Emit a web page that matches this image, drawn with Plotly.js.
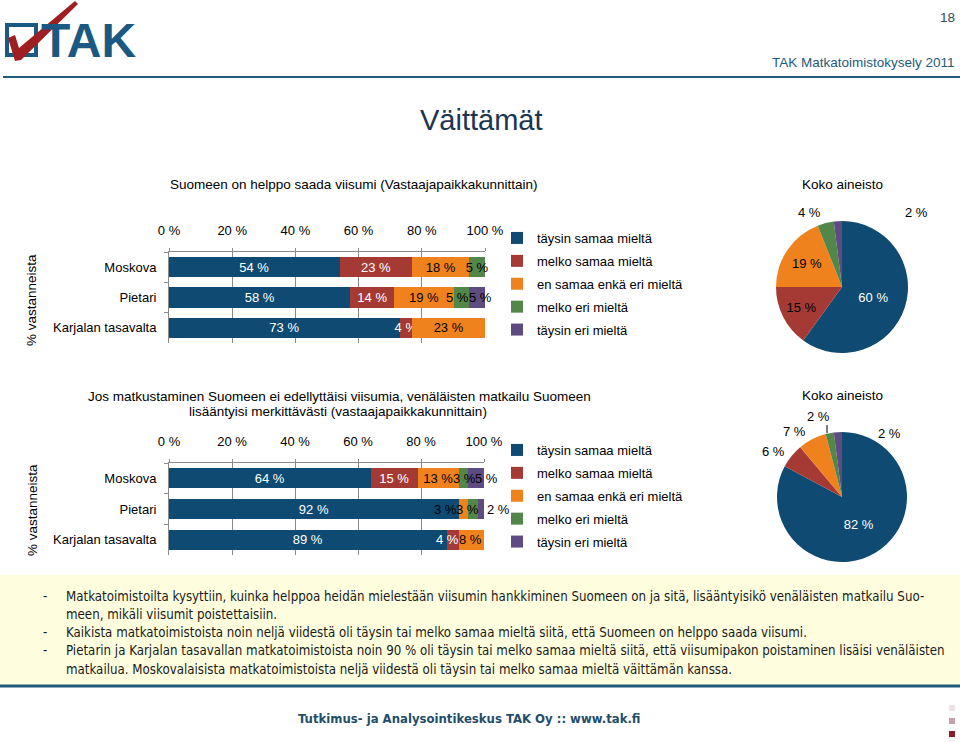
<!DOCTYPE html>
<html><head><meta charset="utf-8">
<script src="https://cdn.plot.ly/plotly-3.0.1.min.js"></script>
<style>html,body{margin:0;padding:0;background:#fff;overflow:hidden}#chart{width:960px;height:742px}</style>
</head><body><div id="chart"></div>
<script>
// ---------- data ----------
const series = ['täysin samaa mieltä','melko samaa mieltä','en samaa enkä eri mieltä','melko eri mieltä','täysin eri mieltä'];
const cities = ['Moskova','Pietari','Karjalan tasavalta'];
const xTickVals = [0,20,40,60,80,100];

const chart1Title = 'Suomeen on helppo saada viisumi (Vastaajapaikkakunnittain)';
const c1TaysinSamaa = [54,58,73];
const c1MelkoSamaa  = [23,14,4];
const c1EnSamaa     = [18,19,23];
const c1MelkoEri    = [5,5,0];
const c1TaysinEri   = [0,5,0];
const pie1Values    = [60,15,19,4,2];

const chart2TitleL1 = 'Jos matkustaminen Suomeen ei edellyttäisi viisumia, venäläisten matkailu Suomeen';
const chart2TitleL2 = 'lisääntyisi merkittävästi (vastaajapaikkakunnittain)';
const c2TaysinSamaa = [64,92,89];
const c2MelkoSamaa  = [15,0,4];
const c2EnSamaa     = [13,3,8];
const c2MelkoEri    = [3,3,0];
const c2TaysinEri   = [5,2,0];
const pie2Values    = [82,6,7,2,2];

const pieTitle = 'Koko aineisto';
const yTitle = '% vastanneista';
const notes = [
  ['-', 'Matkatoimistoilta kysyttiin, kuinka helppoa heidän mielestään viisumin hankkiminen Suomeen on ja sitä, lisääntyisikö venäläisten matkailu Suo-'],
  ['',  'meen, mikäli viisumit poistettaisiin.'],
  ['-', 'Kaikista matkatoimistoista noin neljä viidestä oli täysin tai melko samaa mieltä siitä, että Suomeen on helppo saada viisumi.'],
  ['-', 'Pietarin ja Karjalan tasavallan matkatoimistoista noin 90 % oli täysin tai melko samaa mieltä siitä, että viisumipakon poistaminen lisäisi venäläisten'],
  ['',  'matkailua. Moskovalaisista matkatoimistoista neljä viidestä oli täysin tai melko samaa mieltä väittämän kanssa.']
];

// ---------- style ----------
const colors = ['#0E4A72','#A53A35','#F0821E','#53874A','#5E4B82'];
const textColors = ['#ffffff','#ffffff','#000000','#000000','#000000'];
const FONT = 'Liberation Sans, Arial, sans-serif';
const NARROW = 'Liberation Sans Narrow, Arial Narrow, DejaVu Sans Condensed, sans-serif';
const W = 960, H = 742;
const px = x => x / W, py = y => 1 - y / H;
const pct = v => v + ' %';

const c1 = [c1TaysinSamaa, c1MelkoSamaa, c1EnSamaa, c1MelkoEri, c1TaysinEri];
const c2 = [c2TaysinSamaa, c2MelkoSamaa, c2EnSamaa, c2MelkoEri, c2TaysinEri];

// label placement for crowded segments: [series, city, 'start'|'end', xanchor, xshift]
const crowd1 = [[3,1,'end','right',0],[4,1,'start','left',0]];
const crowd2 = [[3,0,'start','left',-6],[4,0,'start','left',7],[2,1,'start','right',-2],[3,1,'end','right',1],
                [1,2,'end','right',0],[2,2,'start','left',0]];

const traces = [];
const ann = [];
function bounds(data, s, c) {
  const tot = data.reduce((a, arr) => a + arr[c], 0);
  const st = data.slice(0, s).reduce((a, arr) => a + arr[c], 0);
  return [st * 100 / tot, (st + data[s][c]) * 100 / tot];
}
function addBars(data, xa, ya, legendName, gp, crowd, outside) {
  data.forEach((vals, s) => {
    const text = vals.map(v => v > 0 ? pct(v) : '');
    const pos = vals.map(() => 'inside');
    crowd.forEach(([cs, cc, at, anc, sh]) => {
      if (cs !== s) return;
      text[cc] = '';
      const b = bounds(data, cs, cc);
      ann.push({xref: xa, yref: ya, x: at === 'start' ? b[0] : b[1], y: cities[cc], text: pct(vals[cc]),
        showarrow: false, xanchor: anc, yanchor: 'middle', xshift: sh, borderpad: 0, borderwidth: 0,
        font: {family: FONT, size: 13, color: textColors[s]}});
    });
    outside.forEach(([os, oc]) => { if (os === s) pos[oc] = 'outside'; });
    traces.push({
      type: 'bar', orientation: 'h', x: vals, y: cities, name: series[s],
      xaxis: xa, yaxis: ya, legend: legendName, legendgroup: gp + s,
      marker: {color: colors[s], line: {width: 0}},
      text: text, textposition: pos, insidetextanchor: 'middle', textangle: 0,
      constraintext: 'none', cliponaxis: false,
      textfont: {family: FONT, size: 13, color: textColors[s]},
      outsidetextfont: {family: FONT, size: 13, color: '#000'},
      hoverinfo: 'skip'
    });
  });
}
addBars(c1, 'x', 'y', 'legend', 'a', crowd1, []);
addBars(c2, 'x2', 'y2', 'legend2', 'b', crowd2, [[4,1]]);

function pieTrace(vals, dom, insideCount) {
  return {
    type: 'pie', values: vals, labels: series, sort: false, direction: 'clockwise', rotation: 0,
    marker: {colors: colors, line: {width: 0}},
    domain: dom, showlegend: false, hoverinfo: 'skip',
    text: vals.map((v, i) => i < insideCount ? pct(v) : ''),
    textinfo: 'text', textposition: 'inside', insidetextorientation: 'horizontal',
    textfont: {family: FONT, size: 13, color: vals.map((v, i) => i === 0 ? '#fff' : '#000')}
  };
}
traces.push(pieTrace(pie1Values, {x: [px(776), px(908)], y: [py(353), py(221)]}, 3));
traces.push(pieTrace(pie2Values, {x: [px(777), px(907)], y: [py(562), py(432)]}, 1));

function xAxis(dom, anchor) {
  return {domain: dom, anchor: anchor, side: 'top', range: [0, 100], tickvals: xTickVals,
    ticktext: xTickVals.map(pct), showgrid: true, gridcolor: '#8a8a8a', gridwidth: 1,
    showline: true, linecolor: '#8a8a8a', ticks: 'outside', ticklen: 3, tickcolor: '#8a8a8a',
    zeroline: false, ticklabelstandoff: 8, fixedrange: true,
    tickfont: {family: FONT, size: 13, color: '#000'}};
}
function yAxis(dom, anchor) {
  return {domain: dom, anchor: anchor, type: 'category', categoryorder: 'array', categoryarray: cities,
    autorange: 'reversed', showline: true, linecolor: '#8a8a8a', ticks: 'outside', tickson: 'boundaries',
    ticklen: 4, tickcolor: '#8a8a8a', showgrid: false, zeroline: false, ticklabelstandoff: 9, fixedrange: true,
    tickfont: {family: FONT, size: 13, color: '#000'}};
}

function txt(x, y, text, size, color, opts) {
  ann.push(Object.assign({xref: 'paper', yref: 'paper', x: px(x), y: py(y), text: text, showarrow: false,
    font: {family: FONT, size: size, color: color}, xanchor: 'center', yanchor: 'middle'}, opts || {}));
}
// header
txt(957, 18, '18', 13.5, '#2E4A5E', {xanchor: 'right'});
txt(957, 62, 'TAK Matkatoimistokysely 2011', 13.5, '#1F5C7A', {xanchor: 'right'});
txt(39, 40, '<b>TAK</b>', 48, '#1A5A82', {xanchor: 'left'});
txt(481, 120, 'Väittämät', 29, '#1B3552');
// chart titles
txt(353, 185, chart1Title, 13.5, '#000');
txt(339, 396, chart2TitleL1, 13.5, '#000');
txt(338, 411, chart2TitleL2, 13.5, '#000');
txt(842, 184, pieTitle, 13.5, '#000');
txt(842, 395, pieTitle, 13.5, '#000');
txt(32, 300, yTitle, 13.5, '#000', {textangle: -90});
txt(32, 510, yTitle, 13.5, '#000', {textangle: -90});
// pie outside labels
txt(809, 212, pct(pie1Values[3]), 13, '#000');
txt(916, 212, pct(pie1Values[4]), 13, '#000');
txt(773, 451, pct(pie2Values[1]), 13, '#000');
txt(794, 431, pct(pie2Values[2]), 13, '#000');
txt(818, 416, pct(pie2Values[3]), 13, '#000');
txt(889, 433, pct(pie2Values[4]), 13, '#000');
// notes
const noteY = [596, 614, 632, 650, 669];
notes.forEach((n, i) => {
  if (n[0]) ann.push({xref: 'paper', yref: 'paper', x: px(41), y: py(noteY[i]), text: n[0], showarrow: false,
    xanchor: 'left', yanchor: 'middle', font: {family: NARROW, size: 13.2, color: '#1a1a1a'}});
  ann.push({xref: 'paper', yref: 'paper', x: px(64), y: py(noteY[i]), text: n[1], showarrow: false,
    xanchor: 'left', yanchor: 'middle', font: {family: NARROW, size: 13.2, color: '#1a1a1a'}});
});
ann.push({xref: 'paper', yref: 'paper', x: px(469), y: py(718), text: '<b>Tutkimus- ja Analysointikeskus TAK Oy :: www.tak.fi</b>',
  showarrow: false, xanchor: 'center', yanchor: 'middle', font: {family: NARROW, size: 13, color: '#1F4E6B'}});

const path = pts => 'M' + pts.map(p => px(p[0]) + ',' + py(p[1])).join('L') + 'Z';
const shapes = [
  {type: 'rect', xref: 'paper', yref: 'paper', x0: 0, x1: 1, y0: py(686), y1: py(575), fillcolor: '#FEFEDF', line: {width: 0}, layer: 'below'},
  {type: 'line', xref: 'paper', yref: 'paper', x0: 0, x1: 1, y0: py(686), y1: py(686), line: {color: '#1F5C7A', width: 3}},
  {type: 'line', xref: 'paper', yref: 'paper', x0: px(3), x1: 1, y0: py(77), y1: py(77), line: {color: '#1F5C7A', width: 2}},
  {type: 'rect', xref: 'paper', yref: 'paper', x0: px(7), x1: px(36), y0: py(55), y1: py(25), line: {color: '#1A5A82', width: 4}},
  {type: 'path', xref: 'paper', yref: 'paper', path: path([[8,38],[15,35],[19,48],[75,1],[78,4],[21,60],[15,61]]), fillcolor: '#9E1E22', line: {width: 0}},
  {type: 'line', xref: 'paper', yref: 'paper', x0: px(827), x1: px(827), y0: py(425), y1: py(433), line: {color: '#000', width: 1}},
  {type: 'rect', xref: 'paper', yref: 'paper', x0: px(949), x1: px(955), y0: py(711), y1: py(705), fillcolor: '#EFE2E5', line: {width: 0}},
  {type: 'rect', xref: 'paper', yref: 'paper', x0: px(949), x1: px(955), y0: py(724), y1: py(718), fillcolor: '#C9A0A9', line: {width: 0}},
  {type: 'rect', xref: 'paper', yref: 'paper', x0: px(949), x1: px(955), y0: py(737), y1: py(731), fillcolor: '#8B1E2E', line: {width: 0}}
];

function legend(top) {
  return {x: px(497), y: py(top), xanchor: 'left', yanchor: 'top', traceorder: 'grouped', tracegroupgap: 3,
    bgcolor: 'rgba(0,0,0,0)', borderwidth: 0, itemwidth: 30, itemclick: false, itemdoubleclick: false,
    font: {family: FONT, size: 13, color: '#000'}};
}

const layout = {
  width: W, height: H, margin: {l: 0, r: 0, t: 0, b: 0}, paper_bgcolor: '#fff', plot_bgcolor: 'rgba(0,0,0,0)',
  font: {family: FONT, size: 13, color: '#000'},
  barmode: 'stack', barnorm: 'percent', bargap: 0.34, showlegend: true,
  xaxis: xAxis([px(169), px(485)], 'y'), yaxis: yAxis([py(343), py(252)], 'x'),
  xaxis2: xAxis([px(169), px(484)], 'y2'), yaxis2: yAxis([py(555), py(463)], 'x2'),
  legend: legend(223), legend2: legend(435),
  annotations: ann, shapes: shapes
};
Plotly.newPlot('chart', traces, layout, {staticPlot: true, displayModeBar: false});
</script></body></html>
